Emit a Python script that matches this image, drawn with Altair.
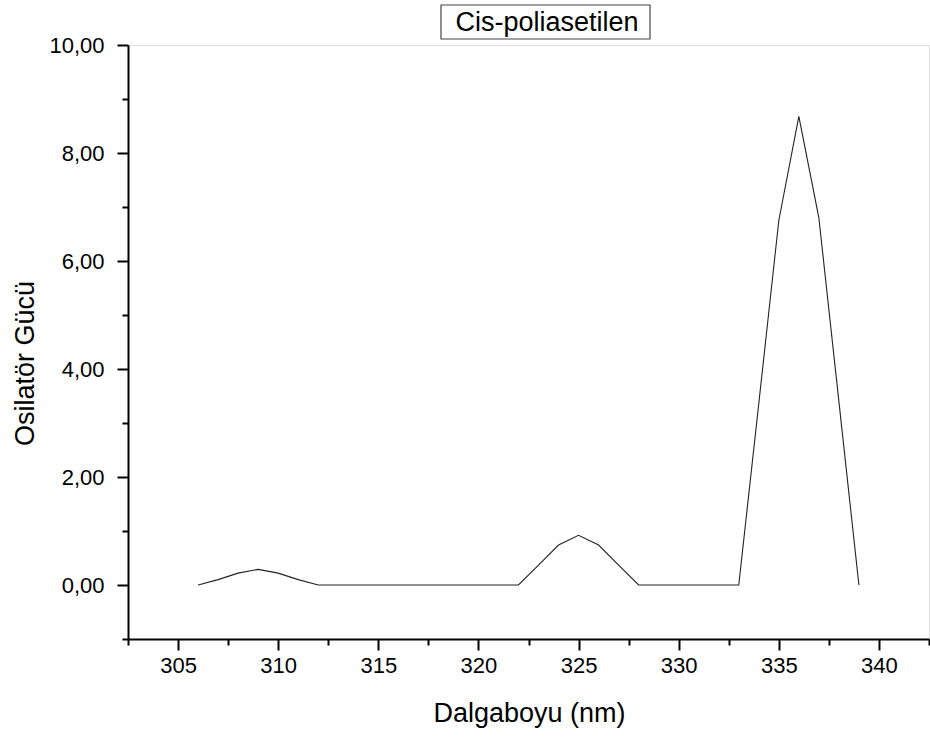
import altair as alt
import pandas as pd

wavelength = [306, 307, 308, 309, 310, 311, 312, 313, 314, 315, 316, 317, 318, 319,
              320, 321, 322, 323, 324, 325, 326, 327, 328, 329, 330, 331, 332, 333,
              334, 335, 336, 337, 338, 339]
strength = [0.0, 0.1, 0.22, 0.29, 0.22, 0.1, 0.0, 0.0, 0.0, 0.0, 0.0, 0.0, 0.0, 0.0,
            0.0, 0.0, 0.0, 0.37, 0.74, 0.92, 0.74, 0.37, 0.0, 0.0, 0.0, 0.0, 0.0, 0.0,
            3.36, 6.75, 8.68, 6.8, 3.4, 0.0]
title_text = ["Cis-poliasetilen"]
x_ticks = [302.5 + 2.5 * i for i in range(17)]
y_ticks = list(range(-1, 11))

FONT = "Liberation Sans"
df = pd.DataFrame({"x": wavelength, "y": strength})
tdf = pd.DataFrame({"t": title_text})

x_axis = alt.Axis(
    values=x_ticks,
    labelExpr="datum.value % 5 === 0 ? format(datum.value, 'd') : ''",
    tickSize={"condition": {"test": "datum.value % 5 !== 0", "value": 6}, "value": 11},
    tickWidth=2, tickColor="black", domainWidth=2, domainColor="black",
    labelFont=FONT, labelFontSize=22, labelColor="black", labelPadding=5,
    grid=False, title="Dalgaboyu (nm)", titleFont=FONT, titleFontSize=27,
    titleFontWeight="normal", titleColor="black",
    titleX=401, titleY=82, titleBaseline="alphabetic", titleAnchor="middle",
)
y_axis = alt.Axis(
    values=y_ticks,
    labelExpr="datum.value % 2 === 0 ? replace(format(datum.value, '.2f'), '.', ',') : ''",
    tickSize={"condition": {"test": "datum.value % 2 !== 0", "value": 6}, "value": 11},
    tickWidth=2, tickColor="black", domainWidth=2, domainColor="black",
    labelFont=FONT, labelFontSize=22, labelColor="black", labelPadding=13,
    grid=False, title="Osilatör Gücü", titleFont=FONT, titleFontSize=27,
    titleFontWeight="normal", titleColor="black",
    titleX=-95, titleY=318, titleBaseline="alphabetic", titleAngle=270,
    titleAnchor="middle",
)

line = alt.Chart(df).mark_line(color="#222222", strokeWidth=1.1).encode(
    x=alt.X("x:Q", scale=alt.Scale(domain=[302.5, 342.5], nice=False, zero=False), axis=x_axis),
    y=alt.Y("y:Q", scale=alt.Scale(domain=[-1, 10], nice=False, zero=False), axis=y_axis),
)

box = alt.Chart(tdf).mark_rect(fill="white", stroke="#444444", strokeWidth=1.2).encode(
    x=alt.value(313), x2=alt.value(522), y=alt.value(-40), y2=alt.value(-6)
)
label = alt.Chart(tdf).mark_text(
    font=FONT, fontSize=27, color="black", align="center", baseline="alphabetic"
).encode(x=alt.value(419), y=alt.value(-14), text="t:N")

chart = alt.layer(line, box, label).properties(
    width=801, height=594,
    autosize=alt.AutoSizeParams(type="none"),
    padding={"left": 128, "top": 45, "right": 1, "bottom": 99},
).configure_view(stroke=None).configure(background="white")

chart.save("out.html", embed_options={"renderer": "svg", "actions": False})
